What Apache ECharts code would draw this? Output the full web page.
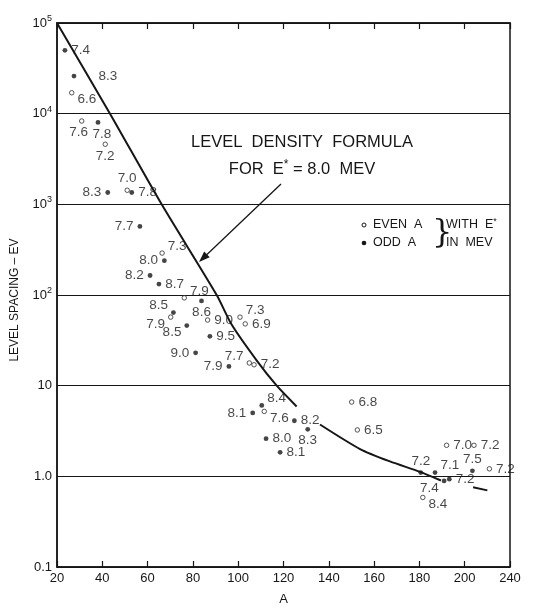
<!DOCTYPE html>
<html>
<head>
<meta charset="utf-8">
<script src="https://cdn.jsdelivr.net/npm/echarts@6/dist/echarts.min.js"></script>
<style>
html,body{margin:0;padding:0;background:#fff;}
#c{width:541px;height:611px;}
</style>
</head>
<body>
<div id="c"></div>
<script>
// ---- data ----
// x tick values and the text printed under them (the original prints "240" at the right edge)
var xTickValues = [20, 40, 60, 80, 100, 120, 140, 160, 180, 200, 220];
var xTickTexts  = ['20', '40', '60', '80', '100', '120', '140', '160', '180', '200', '240'];
var yTickValues = [0.1, 1, 10, 1e2, 1e3, 1e4, 1e5];
var yTickTexts  = ['0.1', '1.0', '10', '10|2', '10|3', '10|4', '10|5'];

// odd A (filled dots)
var oddA   = [23.5, 27.5, 38.1, 42.4, 53.0, 56.6, 67.4, 61.1, 65.0, 83.8, 71.4, 77.3, 87.5, 81.2, 95.9, 110.4, 106.4, 124.8, 130.7, 112.3, 118.5, 180.6, 186.9, 190.9, 193.2, 203.4];
var oddVal = [50000, 26000, 8000, 1350, 1350, 571, 239, 164, 132, 86, 64, 46, 35, 23, 16.3, 6.05, 5.0, 4.1, 3.3, 2.6, 1.84, 1.10, 1.10, 0.89, 0.93, 1.15];
var oddE   = ['7.4', '8.3', '7.8', '8.3', '7.8', '7.7', '8.0', '8.2', '8.7', '8.6', '8.5', '8.5', '9.5', '9.0', '7.9', '8.4', '8.1', '8.2', '8.3', '8.0', '8.1', '7.2', '7.1', '7.4', '7.2', '7.5'];
var oddSide = ['r', 'r2', 'bR', 'l', 'r', 'l', 'l', 'l', 'r', 'b', 'tl', 'bl', 'r', 'l', 'l', 'tr', 'l', 'r', 'b', 'r', 'r', 't', 'tr', 'bl', 'r', 't'];

// even A (open circles)
var evenA   = [26.5, 30.9, 41.3, 51.0, 66.4, 76.2, 70.2, 86.5, 100.8, 103.1, 104.9, 107.0, 111.5, 150.1, 152.6, 192.0, 204.1, 210.9, 181.5];
var evenVal = [17000, 8300, 4600, 1430, 290, 93, 57, 53, 57, 48, 17.8, 17, 5.2, 6.6, 3.25, 2.2, 2.2, 1.21, 0.585];
var evenE   = ['6.6', '7.6', '7.2', '7.0', '7.3', '7.9', '7.9', '9.0', '7.3', '6.9', '7.7', '7.2', '7.6', '6.8', '6.5', '7.0', '7.2', '7.2', '8.4'];
var evenSide = ['br', 'bL', 'b', 't', 'tr', 'tr', 'bl', 'r', 'tr', 'r', 'tl', 'r', 'br', 'r', 'r', 'r', 'r', 'r', 'br'];

// level density formula curve (null = gap in the drawn line)
var curveA   = [20, 43.4, 66.2, 90.5, 97.1, 108.2, 117.0, 125.8, 130, 136.1, 153.8, 167.0, 180.3, 189.5, 196, 203.7, 210];
var curveVal = [1e5, 1e4, 1e3, 100, 47.2, 18.9, 10, 5.9, null, 3.73, 2.0, 1.46, 1.12, 0.90, null, 0.757, 0.70];

// ---- build ----
var FONT = 'Liberation Sans, Arial, sans-serif';
var INK = '#161616';
var sideMap = {
  r:  {position: 'right', distance: 4},
  r2: {position: 'right', distance: 22},
  l:  {position: 'left', distance: 4},
  t:  {position: 'top', distance: 2},
  b:  {position: 'bottom', distance: 2},
  bL: {position: 'bottom', distance: 2, offset: [-3, 0]},
  bR: {position: 'bottom', distance: 2, offset: [4, 0]},
  tr: {position: 'right', distance: 3, offset: [0, -7]},
  br: {position: 'right', distance: 3, offset: [0, 7]},
  tl: {position: 'left', distance: 3, offset: [0, -7]},
  bl: {position: 'left', distance: 3, offset: [0, 7]}
};
function pts(xs, ys, es, sides) {
  return xs.map(function (x, i) {
    var s = sideMap[sides[i]];
    return {value: [x, ys[i]], label: Object.assign({show: true, formatter: es[i]}, s)};
  });
}
var curve = curveA.map(function (x, i) { return [x, curveVal[i] === null ? '-' : curveVal[i]]; });

var chart = echarts.init(document.getElementById('c'), null, {renderer: 'canvas'});
var labelStyle = {color: INK, fontSize: 13.5, fontFamily: FONT};

// arrow geometry
var ax0 = 281, ay0 = 184, ax1 = 199, ay1 = 262;
var dx = ax1 - ax0, dy = ay1 - ay0, L = Math.sqrt(dx * dx + dy * dy);
var ux = dx / L, uy = dy / L, hl = 11, hw = 4;
var bx = ax1 - ux * hl, by = ay1 - uy * hl;

chart.setOption({
  backgroundColor: '#fff',
  animation: false,
  grid: {left: 57, right: 31, top: 23, bottom: 34, show: true, borderColor: INK, borderWidth: 1.5, backgroundColor: 'transparent'},
  xAxis: [{
    type: 'value', min: 20, max: 220, interval: 20, position: 'bottom',
    name: 'A', nameLocation: 'middle', nameGap: 26,
    nameTextStyle: {color: INK, fontSize: 13, fontFamily: FONT},
    axisLine: {show: true, lineStyle: {color: INK, width: 1.5}},
    axisTick: {show: true, inside: true, length: 6, lineStyle: {color: INK, width: 1.2}},
    axisLabel: {color: INK, fontSize: 13, fontFamily: FONT, margin: 5,
      formatter: function (v) { var i = xTickValues.indexOf(v); return i >= 0 ? xTickTexts[i] : ''; }},
    splitLine: {show: false}
  }, {
    type: 'value', min: 20, max: 220, interval: 20, position: 'top',
    axisLine: {show: true, lineStyle: {color: INK, width: 1.5}},
    axisTick: {show: true, inside: true, length: 6, lineStyle: {color: INK, width: 1.2}},
    axisLabel: {show: false}, splitLine: {show: false}
  }],
  yAxis: {
    type: 'log', logBase: 10, min: 0.1, max: 1e5,
    axisLine: {show: true, lineStyle: {color: INK, width: 1.5}},
    axisTick: {show: false},
    splitLine: {show: true, lineStyle: {color: INK, width: 1}},
    axisLabel: {
      color: INK, fontFamily: FONT, margin: 5,
      formatter: function (v) {
        var i = -1;
        yTickValues.forEach(function (t, j) { if (Math.abs(Math.log10(t) - Math.log10(v)) < 1e-6) i = j; });
        if (i < 0) return '';
        var t = yTickTexts[i].split('|');
        return t.length > 1 ? '{b|' + t[0] + '}{s|' + t[1] + '}' : '{b|' + t[0] + '}';
      },
      rich: {
        b: {fontSize: 13, fontFamily: FONT, color: INK, lineHeight: 18},
        s: {fontSize: 9, fontFamily: FONT, color: INK, verticalAlign: 'top', lineHeight: 10, padding: [0, 0, 6, 0]}
      }
    }
  },
  series: [{
    type: 'line', data: curve, showSymbol: false, smooth: 0.25, connectNulls: false,
    lineStyle: {color: INK, width: 2}, z: 2, silent: true
  }, {
    type: 'scatter', data: pts(oddA, oddVal, oddE, oddSide),
    symbol: 'circle', symbolSize: 4.8, itemStyle: {color: INK},
    label: labelStyle, z: 3
  }, {
    type: 'scatter', data: pts(evenA, evenVal, evenE, evenSide),
    symbol: 'circle', symbolSize: 4.5, itemStyle: {color: '#fff', borderColor: INK, borderWidth: 0.9},
    label: labelStyle, z: 3
  }],
  graphic: [
    {type: 'text', x: 15, y: 300, rotation: Math.PI / 2, style: {text: 'LEVEL SPACING – EV', fill: INK, font: '12px ' + FONT, align: 'center', verticalAlign: 'middle'}},
    {type: 'text', x: 302, y: 142, style: {text: 'LEVEL  DENSITY  FORMULA', fill: INK, font: '16.5px ' + FONT, align: 'center', verticalAlign: 'middle'}},
    {type: 'text', x: 302, y: 169, style: {
      text: '{a|FOR  E}{s|*}{a| = 8.0  MEV}', align: 'center', verticalAlign: 'middle',
      rich: {a: {fontSize: 16.5, fontFamily: FONT, fill: INK, lineHeight: 20}, s: {fontSize: 12, fontFamily: FONT, fill: INK, verticalAlign: 'top', lineHeight: 11}}
    }},
    {type: 'line', shape: {x1: ax0, y1: ay0, x2: bx, y2: by}, style: {stroke: INK, lineWidth: 1.3}},
    {type: 'polygon', shape: {points: [[ax1, ay1], [bx - uy * hw, by + ux * hw], [bx + uy * hw, by - ux * hw]]}, style: {fill: INK}},
    // legend
    {type: 'circle', shape: {cx: 364, cy: 225, r: 2}, style: {fill: '#fff', stroke: INK, lineWidth: 1}},
    {type: 'circle', shape: {cx: 364, cy: 243, r: 2.3}, style: {fill: INK}},
    {type: 'text', x: 373, y: 225, style: {text: 'EVEN  A', fill: INK, font: '12.5px ' + FONT, verticalAlign: 'middle'}},
    {type: 'text', x: 373, y: 243, style: {text: 'ODD  A', fill: INK, font: '12.5px ' + FONT, verticalAlign: 'middle'}},
    {type: 'text', x: 432, y: 234, style: {text: '}', fill: INK, font: '32px DejaVu Serif, serif', verticalAlign: 'middle'}},
    {type: 'text', x: 446, y: 225, style: {
      text: '{a|WITH  E}{s|*}', verticalAlign: 'middle',
      rich: {a: {fontSize: 12.5, fontFamily: FONT, fill: INK, lineHeight: 16}, s: {fontSize: 9, fontFamily: FONT, fill: INK, verticalAlign: 'top', lineHeight: 9}}
    }},
    {type: 'text', x: 446, y: 243, style: {text: 'IN  MEV', fill: INK, font: '12.5px ' + FONT, verticalAlign: 'middle'}}
  ]
});
</script>
</body>
</html>
